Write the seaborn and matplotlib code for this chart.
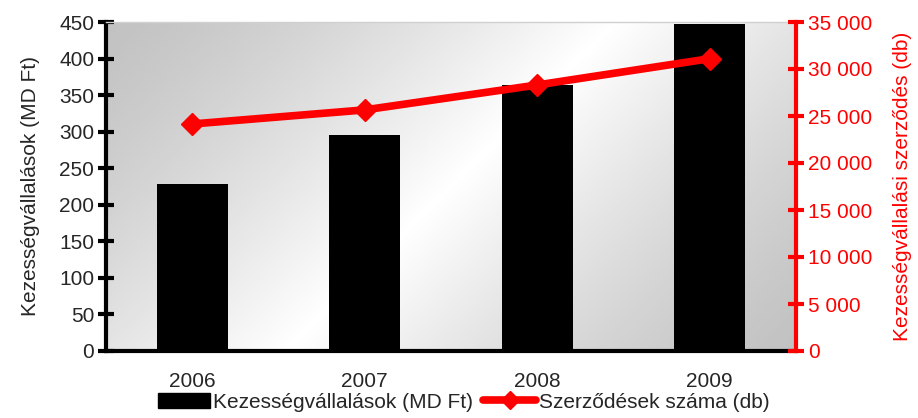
import numpy as np
import pandas as pd
import matplotlib.pyplot as plt
import seaborn as sns
from matplotlib.lines import Line2D
from matplotlib.patches import Patch

years = ["2006", "2007", "2008", "2009"]
commitments = [229, 296, 364, 447]          # MD Ft
contracts = [24150, 25650, 28300, 31100]     # db

left_ticks = [0, 50, 100, 150, 200, 250, 300, 350, 400, 450]
right_ticks = [0, 5000, 10000, 15000, 20000, 25000, 30000, 35000]
right_labels = ["0", "5 000", "10 000", "15 000", "20 000", "25 000", "30 000", "35 000"]

df = pd.DataFrame({"year": years, "commitments": commitments, "contracts": contracts})

sns.set_style("white")
plt.rcParams["font.family"] = ["Liberation Sans", "DejaVu Sans"]
fs = 15

fig = plt.figure(figsize=(9.18, 4.18), dpi=100)
ax = fig.add_axes([106 / 918, 1 - 351 / 418, 690 / 918, 329 / 418])

# diagonal grey gradient background
u, v = np.meshgrid(np.linspace(0, 1, 300), np.linspace(1, 0, 150))
s = (u * 690 + (1 - v) * 329) / (690 + 329)
grad = 0.76 + 0.24 * (1 - np.abs(2 * s - 1)) ** 1.3
ax.imshow(grad, cmap="gray", vmin=0, vmax=1, extent=[0, 1, 0, 1],
          transform=ax.transAxes, aspect="auto", zorder=0)

sns.barplot(data=df, x="year", y="commitments", color="black", width=0.41,
            saturation=1, linewidth=0, ax=ax, zorder=2)
ax.set_xlim(-0.5, 3.5)
ax.set_ylim(0, 450)
ax.set_yticks(left_ticks)
ax.set_xlabel("")
ax.set_ylabel("Kezességvállalások (MD Ft)", fontsize=fs, labelpad=14)
ax.tick_params(axis="y", direction="inout", length=11, width=3, color="black", labelsize=fs, pad=3)
ax.tick_params(axis="x", which="major", length=0, labelsize=fs, pad=15)
ax.set_xticks([-0.5, 0.5, 1.5, 2.5, 3.5], minor=True)
ax.tick_params(axis="x", which="minor", direction="inout", length=11, width=3, color="black")
for side in ["left", "bottom"]:
    ax.spines[side].set_linewidth(3)
    ax.spines[side].set_color("black")
ax.spines["top"].set_color("#d0d0d0")
ax.spines["top"].set_linewidth(1)
ax.spines["right"].set_visible(False)

ax2 = ax.twinx()
ax2.plot(range(len(years)), df["contracts"], color="red", lw=5.5, marker="D",
         markersize=11, zorder=3)
ax2.set_ylim(0, 35000)
ax2.set_yticks(right_ticks)
ax2.set_yticklabels(right_labels)
ax2.tick_params(axis="y", direction="inout", length=11, width=3, colors="red", labelsize=fs, pad=3)
ax2.set_ylabel("Kezességvállalási szerződés (db)", color="red", fontsize=fs, labelpad=15)
for side in ["left", "bottom", "top"]:
    ax2.spines[side].set_visible(False)
ax2.spines["right"].set_color("red")
ax2.spines["right"].set_linewidth(3)

handles = [Patch(facecolor="black", edgecolor="black"),
           Line2D([0], [0], color="red", lw=5.5, marker="D", markersize=9)]
fig.legend(handles, ["Kezességvállalások (MD Ft)", "Szerződések száma (db)"],
           loc="lower center", bbox_to_anchor=(0.505, -0.03), ncol=2, frameon=False,
           fontsize=fs, handlelength=2.5, handletextpad=0.15, columnspacing=0.5)

fig.savefig("out.png", dpi=100)
